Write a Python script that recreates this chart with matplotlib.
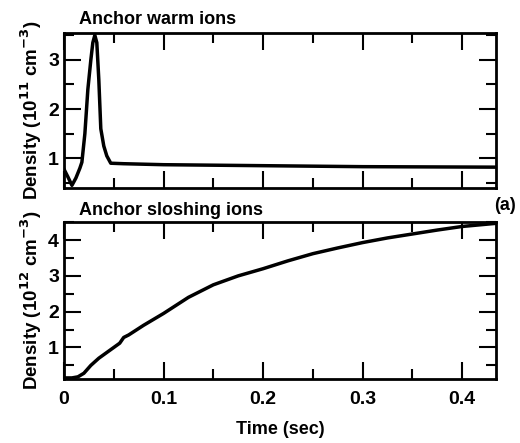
import numpy as np
import matplotlib.pyplot as plt
from matplotlib.ticker import MultipleLocator

plt.rcParams['font.family'] = ['Liberation Sans', 'DejaVu Sans']
plt.rcParams['font.weight'] = 'bold'
plt.rcParams['axes.labelweight'] = 'bold'
plt.rcParams['mathtext.default'] = 'bf'

# anchor warm ions (10^11 cm^-3)
t_warm = [0, 0.004, 0.008, 0.012, 0.016, 0.018, 0.021, 0.024, 0.027, 0.029, 0.031,
          0.033, 0.035, 0.037, 0.040, 0.043, 0.047, 0.06, 0.1, 0.2, 0.3, 0.435]
n_warm = [0.78, 0.62, 0.45, 0.6, 0.8, 0.92, 1.5, 2.4, 3.0, 3.35, 3.5,
          3.35, 2.6, 1.6, 1.25, 1.05, 0.9, 0.89, 0.87, 0.85, 0.83, 0.82]

# anchor sloshing ions (10^12 cm^-3)
t_slosh = [0, 0.008, 0.014, 0.02, 0.027, 0.035, 0.045, 0.056, 0.06, 0.065, 0.08,
           0.1, 0.125, 0.15, 0.175, 0.2, 0.225, 0.25, 0.275, 0.3, 0.325, 0.35,
           0.375, 0.4, 0.435]
n_slosh = [0.15, 0.15, 0.18, 0.28, 0.5, 0.7, 0.9, 1.12, 1.28, 1.35, 1.62,
           1.95, 2.4, 2.75, 3.0, 3.2, 3.42, 3.62, 3.78, 3.93, 4.06, 4.17,
           4.28, 4.38, 4.47]

fig = plt.figure(figsize=(5.2, 4.43), dpi=100)
ax1 = fig.add_axes([0.123, 0.576, 0.831, 0.35])
ax2 = fig.add_axes([0.123, 0.1445, 0.831, 0.354])

ax1.plot(t_warm, n_warm, color='black', lw=2.5)
ax2.plot(t_slosh, n_slosh, color='black', lw=2.5)

ax1.set_ylim(0.4, 3.55)
ax2.set_ylim(0.12, 4.5)
for ax in (ax1, ax2):
    ax.set_xlim(0, 0.434)
    ax.xaxis.set_major_locator(MultipleLocator(0.1))
    ax.xaxis.set_minor_locator(MultipleLocator(0.05))
    ax.yaxis.set_major_locator(MultipleLocator(1))
    ax.yaxis.set_minor_locator(MultipleLocator(0.5))
    ax.tick_params(which='both', direction='in', top=True, right=True, width=1.5, labelsize=14)
    ax.tick_params(which='major', length=12)
    ax.tick_params(which='minor', length=7)
    ax.tick_params(axis='x', pad=9)
    for s in ax.spines.values():
        s.set_linewidth(2)

ax1.set_xticklabels([])
ax2.set_xticks([0, 0.1, 0.2, 0.3, 0.4])
ax2.set_xticklabels(['0', '0.1', '0.2', '0.3', '0.4'])

ax1.set_ylabel('Density (10$^{11}$ cm$^{-3}$)', fontsize=13.5, labelpad=3)
ax2.set_ylabel('Density (10$^{12}$ cm$^{-3}$)', fontsize=13.5, labelpad=3)
ax2.set_xlabel('Time (sec)', fontsize=13, labelpad=9)

ax1.text(0.035, 1.03, 'Anchor warm ions', transform=ax1.transAxes, fontsize=13,
         fontweight='bold', va='bottom')
ax2.text(0.035, 1.02, 'Anchor sloshing ions', transform=ax2.transAxes, fontsize=13,
         fontweight='bold', va='bottom')
ax2.text(1.02, 1.05, '(a)', transform=ax2.transAxes, fontsize=13,
         fontweight='bold', va='bottom', ha='center')

fig.savefig('out.png', dpi=100)
